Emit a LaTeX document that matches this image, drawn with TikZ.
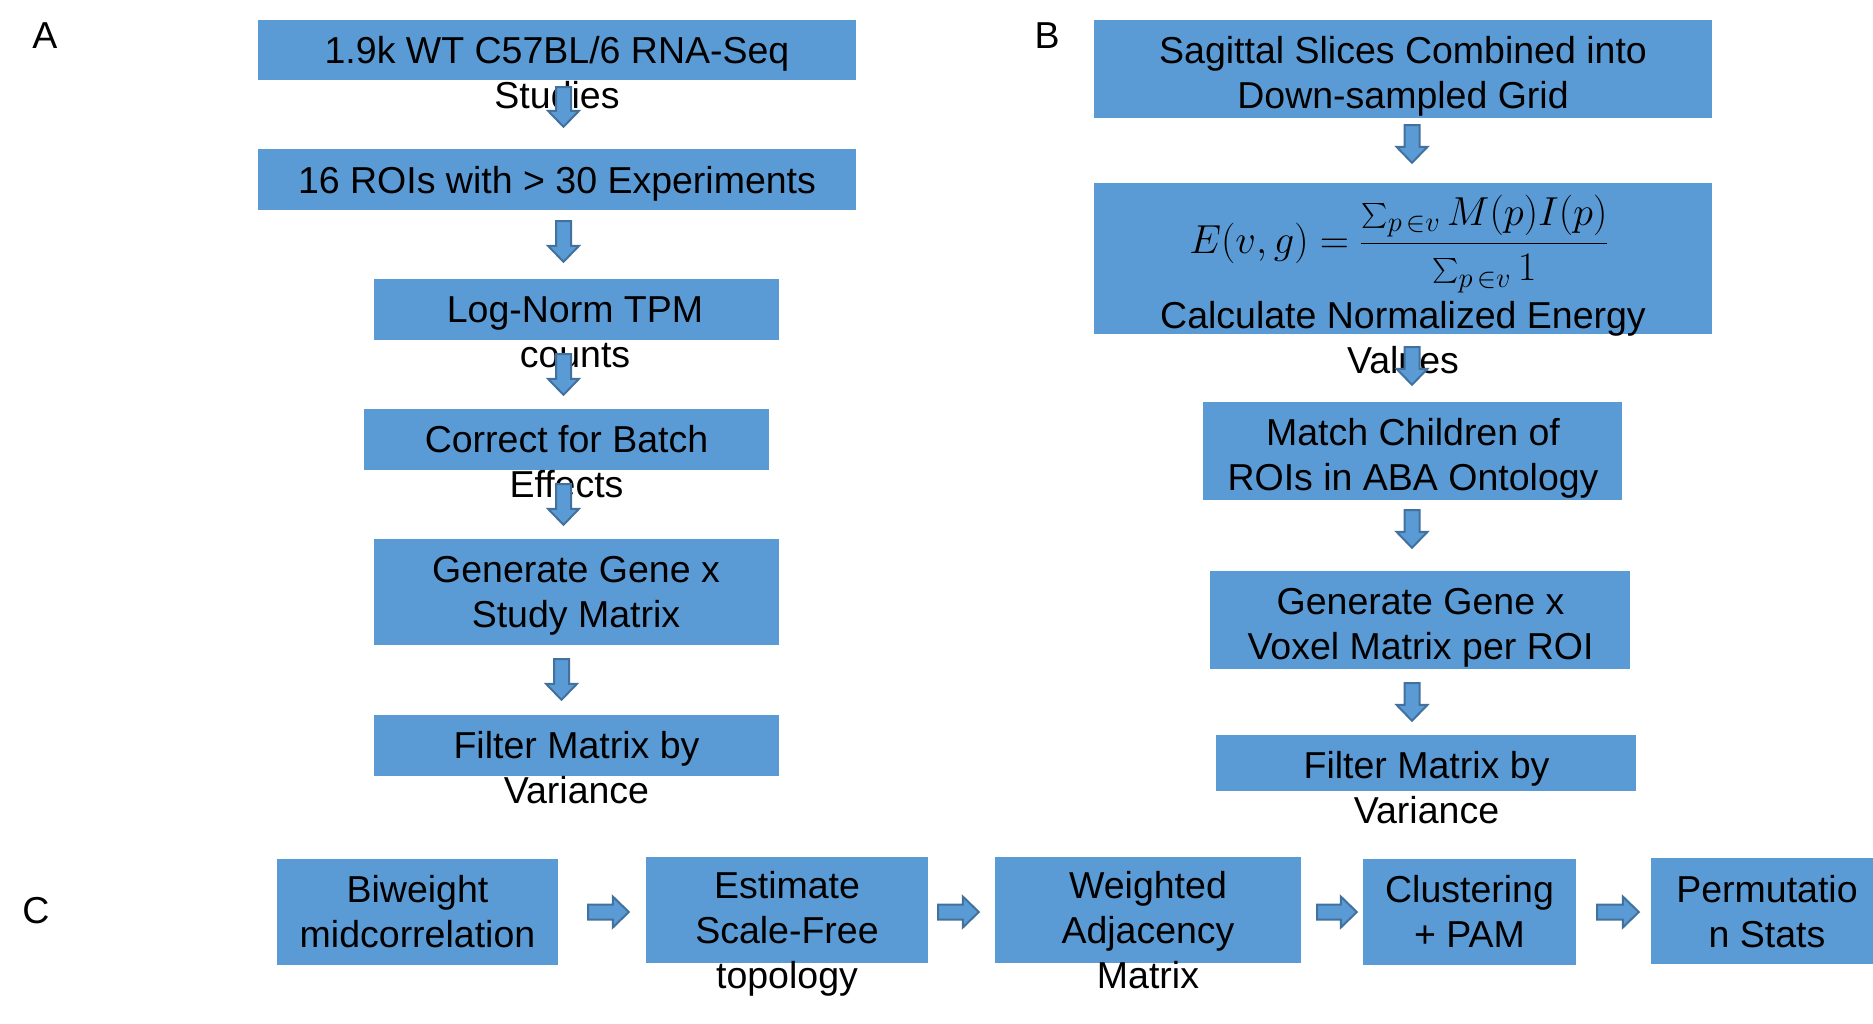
\RequirePackage{fix-cm}
\documentclass[tikz,border=0pt]{standalone}
\usepackage{exscale}
\usepackage[no-math]{fontspec}
\setmainfont{Liberation Sans}
\usepackage{tikz}
\usetikzlibrary{shapes, arrows.meta, positioning, calc}
\definecolor{boxblue}{HTML}{5B9BD5}
\definecolor{arrowedge}{HTML}{41719C}
\tikzstyle{stage} = [rectangle, fill=boxblue, inner sep=0pt]
\tikzstyle{caption} = [align=center, anchor=base, inner sep=0pt, font=\fontsize{37.5}{45}\selectfont]
\tikzstyle{downblk} = [draw=arrowedge, fill=boxblue, line width=2pt, line join=miter,
  to path={let \p1=(\tikztostart), \p2=(\tikztotarget) in
    (\x1-7.5pt,\y1) -- (\x1+7.5pt,\y1) -- (\x1+7.5pt,\y2+16pt) -- (\x1+15.5pt,\y2+16pt)
    -- (\x1,\y2) -- (\x1-15.5pt,\y2+16pt) -- (\x1-7.5pt,\y2+16pt) -- cycle}]
\tikzstyle{rightblk} = [draw=arrowedge, fill=boxblue, line width=2pt, line join=miter,
  to path={let \p1=(\tikztostart), \p2=(\tikztotarget) in
    (\x1,\y1+7.5pt) -- (\x2-16pt,\y1+7.5pt) -- (\x2-16pt,\y1+15.5pt) -- (\x2,\y1)
    -- (\x2-16pt,\y1-15.5pt) -- (\x2-16pt,\y1-7.5pt) -- (\x1,\y1-7.5pt) -- cycle}]

\begin{document}
\begin{tikzpicture}[x=1pt, y=-1pt]
  \useasboundingbox (0,0) rectangle (1873,1023);

  % panel labels
  \node[caption] (labA) at (45,48) {A};
  \node[caption] (labB) at (1047,48) {B};
  \node[caption] (labC) at (36,923) {C};

  % panel A
  \node[stage, minimum width=598pt, minimum height=60pt] (A1) at (557,50) {};
  \node[stage, minimum width=598pt, minimum height=61pt] (A2) at (557,179.5) {};
  \node[stage, minimum width=405pt, minimum height=61pt] (A3) at (576.5,309.5) {};
  \node[stage, minimum width=405pt, minimum height=61pt] (A4) at (566.5,439.5) {};
  \node[stage, minimum width=405pt, minimum height=106pt] (A5) at (576.5,592) {};
  \node[stage, minimum width=405pt, minimum height=61pt] (A6) at (576.5,745.5) {};

  \node[caption] (A1t) at (557,108) {1.9k WT C57BL/6 RNA-Seq\\Studies};
  \node[caption] (A2t) at (557,193) {16 ROIs with > 30 Experiments};
  \node[caption] (A3t) at (575,367) {Log-Norm TPM\\counts};
  \node[caption] (A4t) at (566.5,497) {Correct for Batch\\Effects};
  \node[caption] (A5t) at (576,627) {Generate Gene x\\Study Matrix};
  \node[caption] (A6t) at (576.5,803) {Filter Matrix by\\Variance};

  % panel B
  \node[stage, minimum width=618pt, minimum height=98pt] (B1) at (1403,69) {};
  \node[stage, minimum width=618pt, minimum height=151pt] (B2) at (1403,258.5) {};
  \node[stage, minimum width=419pt, minimum height=98pt] (B3) at (1412.5,451) {};
  \node[stage, minimum width=420pt, minimum height=98pt] (B4) at (1420,620) {};
  \node[stage, minimum width=420pt, minimum height=56pt] (B5) at (1426,763) {};

  \node[caption] (B1t) at (1403,108) {Sagittal Slices Combined into\\Down-sampled Grid};
  \node[font=\fontsize{40.5}{45}\selectfont, inner sep=0pt] (B2f) at (1399,244)
    {$\displaystyle E(v,g) = \frac{\sum_{p\,\in v} M(p)I(p)}{\sum_{p\,\in v} 1}$};
  \node[caption] (B2t) at (1403,373) {Calculate Normalized Energy\\Values};
  \node[caption] (B3t) at (1413,490) {Match Children of\\ROIs in ABA Ontology};
  \node[caption] (B4t) at (1420.5,659) {Generate Gene x\\Voxel Matrix per ROI};
  \node[caption] (B5t) at (1426.5,823) {Filter Matrix by\\Variance};

  % panel C
  \node[stage, minimum width=281pt, minimum height=106pt] (C1) at (417.5,912) {};
  \node[stage, minimum width=282pt, minimum height=106pt] (C2) at (787,910) {};
  \node[stage, minimum width=306pt, minimum height=106pt] (C3) at (1148,910) {};
  \node[stage, minimum width=213pt, minimum height=106pt] (C4) at (1469.5,912) {};
  \node[stage, minimum width=232pt, minimum height=106pt] (C5) at (1767,911) {};

  \node[caption] (C1t) at (417.5,947) {Biweight\\midcorrelation};
  \node[caption] (C2t) at (787,988) {Estimate\\Scale-Free\\topology};
  \node[caption] (C3t) at (1148,988) {Weighted\\Adjacency\\Matrix};
  \node[caption] (C4t) at (1469.5,947) {Clustering\\+ PAM};
  \node[caption] (C5t) at (1767,947) {Permutatio\\n Stats};

  % arrows
  \draw[downblk] ([xshift=6.5pt,yshift=-7pt]A1.south) to ([yshift=22pt]A2.north);
  \draw[downblk] ([xshift=6.5pt,yshift=-11pt]A2.south) to ([yshift=17pt]A3.north);
  \draw[downblk] ([xshift=-13pt,yshift=-14pt]A3.south) to ([yshift=14pt]A4.north);
  \draw[downblk] ([xshift=-3pt,yshift=-14pt]A4.south) to ([yshift=14pt]A5.north);
  \draw[downblk] ([xshift=-15pt,yshift=-14pt]A5.south) to ([yshift=15pt]A6.north);

  \draw[downblk] ([xshift=9pt,yshift=-7pt]B1.south) to ([yshift=20pt]B2.north);
  \draw[downblk] ([xshift=9pt,yshift=-13pt]B2.south) to ([yshift=17pt]B3.north);
  \draw[downblk] ([xshift=-0.5pt,yshift=-10pt]B3.south) to ([yshift=23pt]B4.north);
  \draw[downblk] ([xshift=-8pt,yshift=-14pt]B4.south) to ([yshift=14pt]B5.north);

  \draw[rightblk] ([xshift=30pt]C1.east) to ([xshift=-17pt]C2.west);
  \draw[rightblk] ([xshift=10pt,yshift=-2pt]C2.east) to ([xshift=-16pt]C3.west);
  \draw[rightblk] ([xshift=16pt,yshift=-2pt]C3.east) to ([xshift=-6pt]C4.west);
  \draw[rightblk] ([xshift=21pt]C4.east) to ([xshift=-12pt]C5.west);
\end{tikzpicture}
\end{document}
